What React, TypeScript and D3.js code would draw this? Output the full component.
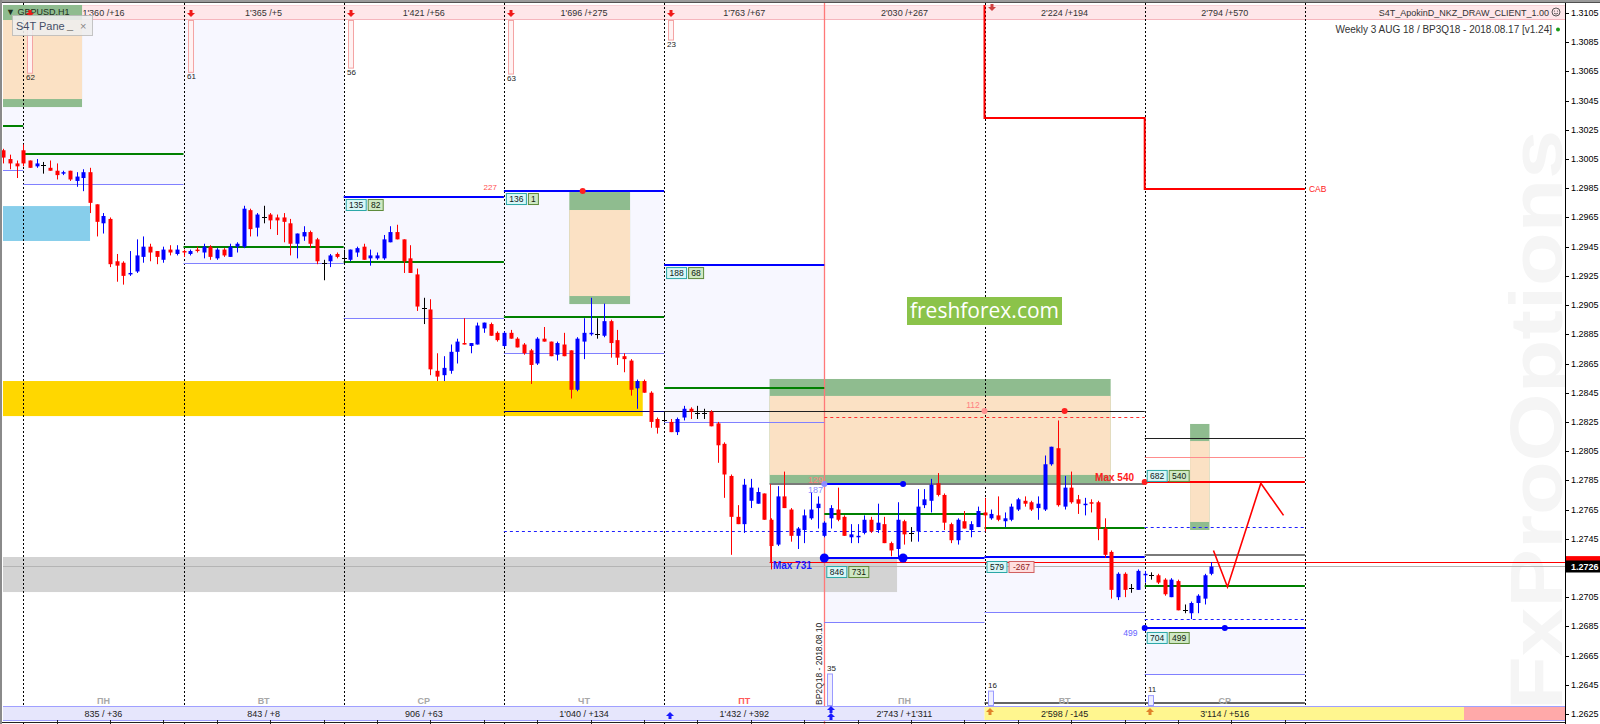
import React from 'react';
import * as d3 from 'd3';

// ---------- GBPUSD H1 candles ----------
const OPEN = [
  1.3011, 1.3005, 1.3002,
  1.3011, 1.3004, 1.3000, 1.3001, 1.2999, 1.2997, 1.2995, 1.2997, 1.2990, 1.2992, 1.2996, 1.2974, 1.2961, 1.2964, 1.2935, 1.2934, 1.2926, 1.2928, 1.2938, 1.2945, 1.2942, 1.2936, 1.2943, 1.2940,
  1.2942, 1.2940, 1.2943, 1.2941, 1.2945, 1.2937, 1.2943, 1.2938, 1.2945, 1.2945, 1.2970, 1.2958, 1.2965, 1.2967, 1.2965, 1.2965, 1.2961, 1.2947, 1.2952, 1.2955, 1.2950, 1.2934, 1.2935, 1.2940,
  1.2937, 1.2936, 1.2941, 1.2945, 1.2937, 1.2937, 1.2937, 1.2948, 1.2955, 1.2950, 1.2937, 1.2926, 1.2903, 1.2902, 1.2860, 1.2857, 1.2860, 1.2873, 1.2879, 1.2877, 1.2878, 1.2889, 1.2892, 1.2886,
  1.2877, 1.2886, 1.2882, 1.2878, 1.2874, 1.2865, 1.2882, 1.2880, 1.2871, 1.2878, 1.2874, 1.2847, 1.2880, 1.2885, 1.2885, 1.2884, 1.2894, 1.2881, 1.2870, 1.2867, 1.2848, 1.2853, 1.2845, 1.2827,
  1.2826, 1.2825, 1.2818, 1.2828, 1.2834, 1.2831, 1.2831, 1.2832, 1.2824, 1.2810, 1.2788, 1.2760, 1.2755, 1.2771, 1.2769, 1.2776, 1.2758, 1.2741, 1.2774, 1.2765, 1.2747, 1.2751, 1.2759, 1.2766,
  1.2747, 1.2759, 1.2765, 1.2760, 1.2746, 1.2746, 1.2749, 1.2758, 1.2751, 1.2755, 1.2742, 1.2738, 1.2757, 1.2749, 1.2750, 1.2768, 1.2771, 1.2783, 1.2775, 1.2755, 1.2744, 1.2757, 1.2751, 1.2753,
  1.2763, 1.2759, 1.2761, 1.2757, 1.2758, 1.2765, 1.2771, 1.2770, 1.2766, 1.2765, 1.2796, 1.2807, 1.2767, 1.2780, 1.2772, 1.2768, 1.2770, 1.2770, 1.2752, 1.2736, 1.2705, 1.2721, 1.2711, 1.2710,
  1.2720, 1.2720, 1.2720, 1.2717, 1.2705, 1.2716, 1.2696, 1.2694, 1.2701, 1.2704, 1.2721,
];
const HIGH = [
  1.3012, 1.3008, 1.3004,
  1.3015, 1.3004, 1.3005, 1.3003, 1.3004, 1.3002, 1.2997, 1.2997, 1.2996, 1.2998, 1.2999, 1.2974, 1.2968, 1.2965, 1.2940, 1.2935, 1.2942, 1.2950, 1.2952, 1.2947, 1.2942, 1.2945, 1.2946, 1.2946,
  1.2943, 1.2943, 1.2945, 1.2947, 1.2946, 1.2944, 1.2944, 1.2947, 1.2948, 1.2973, 1.2971, 1.2968, 1.2973, 1.2968, 1.2967, 1.2968, 1.2964, 1.2954, 1.2959, 1.2956, 1.2951, 1.2936, 1.2940, 1.2941,
  1.2943, 1.2943, 1.2945, 1.2947, 1.2943, 1.2941, 1.2953, 1.2959, 1.2960, 1.2950, 1.2946, 1.2930, 1.2910, 1.2909, 1.2872, 1.2870, 1.2878, 1.2882, 1.2896, 1.2879, 1.2893, 1.2893, 1.2893, 1.2887,
  1.2887, 1.2888, 1.2883, 1.2879, 1.2875, 1.2883, 1.2890, 1.2880, 1.2880, 1.2886, 1.2874, 1.2883, 1.2896, 1.2910, 1.2896, 1.2906, 1.2895, 1.2888, 1.2872, 1.2868, 1.2854, 1.2854, 1.2846, 1.2828,
  1.2832, 1.2827, 1.2828, 1.2836, 1.2835, 1.2836, 1.2834, 1.2833, 1.2825, 1.2811, 1.2789, 1.2768, 1.2786, 1.2786, 1.2780, 1.2776, 1.2759, 1.2781, 1.2791, 1.2766, 1.2753, 1.2765, 1.2777, 1.2774,
  1.2757, 1.2768, 1.2780, 1.2761, 1.2755, 1.2755, 1.2761, 1.2760, 1.2769, 1.2760, 1.2743, 1.2770, 1.2758, 1.2753, 1.2779, 1.2779, 1.2786, 1.2790, 1.2776, 1.2756, 1.2759, 1.2764, 1.2757, 1.2767,
  1.2773, 1.2765, 1.2774, 1.2763, 1.2769, 1.2773, 1.2774, 1.2771, 1.2774, 1.2802, 1.2808, 1.2826, 1.2788, 1.2791, 1.2775, 1.2773, 1.2772, 1.2771, 1.2759, 1.2737, 1.2722, 1.2722, 1.2714, 1.2724,
  1.2723, 1.2722, 1.2721, 1.2718, 1.2718, 1.2717, 1.2700, 1.2702, 1.2707, 1.2721, 1.2729,
];
const LOW = [
  1.3002, 1.2998, 1.2992,
  1.3000, 1.2999, 1.2999, 1.2995, 1.2997, 1.2991, 1.2994, 1.2990, 1.2986, 1.2983, 1.2968, 1.2952, 1.2954, 1.2931, 1.2921, 1.2919, 1.2925, 1.2927, 1.2934, 1.2935, 1.2933, 1.2934, 1.2939, 1.2939,
  1.2938, 1.2939, 1.2941, 1.2937, 1.2936, 1.2936, 1.2938, 1.2938, 1.2941, 1.2944, 1.2952, 1.2952, 1.2961, 1.2957, 1.2953, 1.2948, 1.2939, 1.2937, 1.2949, 1.2944, 1.2933, 1.2922, 1.2931, 1.2937,
  1.2934, 1.2935, 1.2938, 1.2936, 1.2932, 1.2936, 1.2936, 1.2948, 1.2950, 1.2927, 1.2927, 1.2901, 1.2892, 1.2857, 1.2853, 1.2853, 1.2858, 1.2865, 1.2878, 1.2872, 1.2878, 1.2886, 1.2884, 1.2880,
  1.2876, 1.2882, 1.2876, 1.2871, 1.2851, 1.2864, 1.2880, 1.2870, 1.2867, 1.2870, 1.2841, 1.2846, 1.2868, 1.2884, 1.2882, 1.2883, 1.2869, 1.2864, 1.2859, 1.2843, 1.2834, 1.2845, 1.2821, 1.2817,
  1.2825, 1.2818, 1.2816, 1.2826, 1.2827, 1.2827, 1.2827, 1.2822, 1.2797, 1.2773, 1.2734, 1.2755, 1.2749, 1.2766, 1.2769, 1.2758, 1.2724, 1.2740, 1.2766, 1.2743, 1.2738, 1.2742, 1.2758, 1.2752,
  1.2746, 1.2752, 1.2757, 1.2747, 1.2742, 1.2742, 1.2748, 1.2749, 1.2749, 1.2742, 1.2733, 1.2731, 1.2741, 1.2743, 1.2743, 1.2766, 1.2763, 1.2774, 1.2751, 1.2742, 1.2741, 1.2752, 1.2746, 1.2753,
  1.2750, 1.2758, 1.2757, 1.2753, 1.2757, 1.2764, 1.2767, 1.2764, 1.2758, 1.2764, 1.2795, 1.2767, 1.2765, 1.2769, 1.2762, 1.2761, 1.2763, 1.2744, 1.2732, 1.2704, 1.2703, 1.2705, 1.2708, 1.2710,
  1.2715, 1.2717, 1.2714, 1.2706, 1.2705, 1.2696, 1.2694, 1.2690, 1.2694, 1.2700, 1.2720,
];
const CLOSE = [
  1.3006, 1.3002, 1.3000,
  1.3002, 1.2999, 1.3002, 1.3001, 1.2997, 1.2994, 1.2996, 1.2991, 1.2993, 1.2996, 1.2975, 1.2962, 1.2966, 1.2933, 1.2932, 1.2925, 1.2927, 1.2939, 1.2945, 1.2941, 1.2938, 1.2943, 1.2941, 1.2943,
  1.2941, 1.2942, 1.2942, 1.2945, 1.2938, 1.2943, 1.2939, 1.2945, 1.2947, 1.2971, 1.2957, 1.2967, 1.2965, 1.2963, 1.2963, 1.2962, 1.2947, 1.2954, 1.2955, 1.2947, 1.2935, 1.2934, 1.2939, 1.2938,
  1.2937, 1.2943, 1.2944, 1.2936, 1.2939, 1.2939, 1.2950, 1.2955, 1.2950, 1.2935, 1.2927, 1.2904, 1.2903, 1.2861, 1.2856, 1.2862, 1.2873, 1.2880, 1.2878, 1.2879, 1.2891, 1.2893, 1.2884, 1.2881,
  1.2886, 1.2882, 1.2876, 1.2872, 1.2864, 1.2882, 1.2880, 1.2870, 1.2879, 1.2870, 1.2847, 1.2882, 1.2886, 1.2886, 1.2885, 1.2894, 1.2879, 1.2869, 1.2868, 1.2847, 1.2853, 1.2845, 1.2825, 1.2821,
  1.2826, 1.2818, 1.2827, 1.2834, 1.2832, 1.2831, 1.2831, 1.2822, 1.2809, 1.2789, 1.2760, 1.2755, 1.2782, 1.2780, 1.2777, 1.2758, 1.2740, 1.2774, 1.2766, 1.2747, 1.2752, 1.2761, 1.2765, 1.2769,
  1.2756, 1.2766, 1.2758, 1.2747, 1.2748, 1.2747, 1.2758, 1.2750, 1.2756, 1.2742, 1.2737, 1.2758, 1.2748, 1.2749, 1.2767, 1.2772, 1.2782, 1.2775, 1.2756, 1.2744, 1.2758, 1.2752, 1.2755, 1.2764,
  1.2761, 1.2762, 1.2758, 1.2759, 1.2767, 1.2772, 1.2769, 1.2765, 1.2769, 1.2796, 1.2808, 1.2768, 1.2780, 1.2770, 1.2769, 1.2769, 1.2769, 1.2752, 1.2734, 1.2710, 1.2721, 1.2710, 1.2711, 1.2723,
  1.2721, 1.2720, 1.2715, 1.2707, 1.2717, 1.2696, 1.2696, 1.2701, 1.2706, 1.2720, 1.2726,
];

const PRICE_TICKS = [
  1.2625, 1.2645, 1.2665, 1.2685, 1.2705, 1.2725, 1.2745, 1.2765, 1.2785, 1.2805, 1.2825, 1.2845, 1.2865,
  1.2885, 1.2905, 1.2925, 1.2945, 1.2965, 1.2985, 1.3005, 1.3025, 1.3045, 1.3065, 1.3085, 1.3105,
];
const DAY_NAMES = ['ПН', 'ВТ', 'СР', 'ЧТ', 'ПТ', 'ПН', 'ВТ', 'СР'];
const TOP_STATS = ["1'360 /+16", "1'365 /+5", "1'421 /+56", "1'696 /+275", "1'763 /+67", "2'030 /+267", "2'224 /+194", "2'794 /+570"];
const BOTTOM_STATS = ['835 / +36', '843 / +8', '906 / +63', "1'040 / +134", "1'432 / +392", "2'743 / +1'311", "2'598 / -145", "3'114 / +516"];
const TOP_COUNTS = [62, 61, 56, 63, 23];
const BOTTOM_COUNTS = [35, 16, 11]; // days 5,6,7
const CURRENT_PRICE = 1.2726;
const ASK_PRICE = 1.2729;

// per slot: 0 = tail of previous week, 1..8 = days
const GREEN_LEVELS = [1.30276, 1.30085, 1.2945, 1.29347, 1.2897, 1.28482, 1.27619, 1.27524, 1.27127];
const RANGE_TOP = [null, null, null, 1.2979, 1.29831, 1.29324, 1.27318, 1.27325, 1.26839];
const RANGE_BOTTOM = [1.29975, 1.29877, 1.29338, 1.28962, 1.28722, 1.28249, 1.2688, 1.26948, 1.26524];

// zones: bar index span, outer (green) and inner (peach) price bounds
const ZONES = [
  { i0: -0.05, i1: 11.8, o0: 1.31105, n0: 1.31002, n1: 1.30461, o1: 1.30406 },
  { i0: 84.8, i1: 93.9, o0: 1.29824, n0: 1.29701, n1: 1.29112, o1: 1.29057 },
  { i0: 114.8, i1: 165.9, o0: 1.28544, n0: 1.28428, n1: 1.27887, o1: 1.27825 },
  { i0: 177.8, i1: 180.7, o0: 1.28236, n0: 1.28119, n1: 1.27565, o1: 1.2751 },
];
const FLAT_ZONES = [
  { i0: -0.05, i1: 13.0, p0: 1.29728, p1: 1.29489, kind: 'sky' },
  { i0: -0.05, i1: 95.8, p0: 1.2853, p1: 1.2829, kind: 'gold' },
  { i0: -0.05, i1: 133.9, p0: 1.27325, p1: 1.27085, kind: 'gray' },
];
const EXTRA_LEVELS = [
  { i0: 75, i1: 99, p: 1.28325, kind: 'navy' },
  { i0: 99, i1: 171, p: 1.28325, kind: 'black' },
  { i0: 171, i1: 195, p: 1.2814, kind: 'black' },
  { i0: 123, i1: 171, p: 1.28284, kind: 'redDash' },
  { i0: 114.8, i1: 171, p: 1.27825, kind: 'gray' },
  { i0: 123, i1: 134.8, p: 1.27825, kind: 'blueThick' },
  { i0: 171, i1: 195, p: 1.27339, kind: 'gray' },
  { i0: 75, i1: 147, p: 1.27505, kind: 'blueDash' },
  { i0: 171, i1: 195, p: 1.2753, kind: 'blueDash' },
  { i0: 171, i1: 195, p: 1.269, kind: 'blueDash' },
  { i0: 171, i1: 195, p: 1.2801, kind: 'redThin' },
  { i0: 171, i1: 195, p: 1.27839, kind: 'red2' },
  { i0: 147, i1: 195, p: 1.26325, kind: 'blackBottom' },
];
const DOTS = [
  { i: 123, p: 1.27318, kind: 'blueBig' },
  { i: 134.8, p: 1.27318, kind: 'blueBig' },
  { i: 123, p: 1.27825, kind: 'lilac' },
  { i: 134.8, p: 1.27825, kind: 'blue' },
  { i: 171, p: 1.26839, kind: 'blue' },
  { i: 183, p: 1.26839, kind: 'blue' },
  { i: 171, p: 1.27839, kind: 'red' },
  { i: 86.8, p: 1.29831, kind: 'red' },
  { i: 147, p: 1.28325, kind: 'pink' },
  { i: 159, p: 1.28325, kind: 'red' },
];
const STEP_LEVELS = [
  { i0: 147, i1: 171, p: 1.30331 },
  { i0: 171, i1: 195, p: 1.29845 },
];
const STEP_TOP = 1.31105;
const FORECAST = [
  { i: 181.3, p: 1.2737 },
  { i: 183.4, p: 1.2712 },
  { i: 188.4, p: 1.2783 },
  { i: 191.8, p: 1.2761 },
];
const PAIR_LABELS = [
  { slot: 3, p: 1.2979, a: '135', b: '82', above: false, bRed: false },
  { slot: 4, p: 1.29831, a: '136', b: '1', above: false, bRed: false },
  { slot: 5, p: 1.29324, a: '188', b: '68', above: false, bRed: false },
  { slot: 6, p: 1.27318, a: '846', b: '731', above: false, bRed: false, gap: 8 },
  { slot: 7, p: 1.27325, a: '579', b: '-267', above: false, bRed: true, gap: 4 },
  { slot: 8, p: 1.27839, a: '682', b: '540', above: true, bRed: false },
  { slot: 8, p: 1.26839, a: '704', b: '499', above: false, bRed: false, gap: 4 },
];

const STYLES = {
  green: { stroke: '#008000', w: 2, dash: undefined },
  blueThin: { stroke: '#8080ff', w: 1, dash: undefined },
  blueThick: { stroke: '#0000ff', w: 2, dash: undefined },
  blueDash: { stroke: '#2020ff', w: 1, dash: '3,3' },
  navy: { stroke: '#000080', w: 1, dash: undefined },
  black: { stroke: '#202020', w: 1, dash: undefined },
  redDash: { stroke: '#ff3030', w: 1, dash: '3,3' },
  gray: { stroke: '#7a7a7a', w: 2, dash: undefined },
  redThin: { stroke: '#ff8c8c', w: 1, dash: undefined },
  red2: { stroke: '#ff0000', w: 2, dash: undefined },
  blackBottom: { stroke: '#303030', w: 1.5, dash: undefined },
};
const DOT_STYLES = {
  blueBig: { fill: '#0000ff', r: 4.5 },
  blue: { fill: '#0000ff', r: 3 },
  lilac: { fill: '#8c8cff', r: 3 },
  red: { fill: '#ff2020', r: 3 },
  pink: { fill: '#ff9090', r: 3 },
};

const W = 1600;
const H = 724;
const AXIS_X = 1565;
const LEFT = 3;
const FONT = "'Liberation Sans', Arial, sans-serif";

function PairLabel({ x0, yLine, a, b, above, bRed, gap }) {
  const h = 11;
  const wa = a.length * 5 + 5;
  const wb = b.length * 5 + 5;
  const top = above ? yLine - h - 1 : yLine + (gap || 2);
  return (
    <g fontSize={8.5} fontFamily={FONT}>
      <rect x={x0 + 0.5} y={top + 0.5} width={wa} height={h} fill="#d8f7f7" stroke="#2aa7a7" />
      <text x={x0 + 0.5 + wa / 2} y={top + 9} textAnchor="middle" fill="#102020">{a}</text>
      <rect x={x0 + wa + 2.5} y={top + 0.5} width={wb} height={h} fill={bRed ? '#ffdede' : '#cfe8c4'} stroke={bRed ? '#d06060' : '#5d8a3a'} />
      <text x={x0 + wa + 2.5 + wb / 2} y={top + 9} textAnchor="middle" fill={bRed ? '#902020' : '#102010'}>{b}</text>
    </g>
  );
}

function UpArrow({ cx, cy, color }) {
  const pts = [[cx, cy - 4], [cx + 4, cy], [cx + 1.5, cy], [cx + 1.5, cy + 3], [cx - 1.5, cy + 3], [cx - 1.5, cy], [cx - 4, cy]];
  return <polygon points={pts.map((p) => p.join(',')).join(' ')} fill={color} />;
}
function DownArrow({ cx, cy, color }) {
  const pts = [[cx, cy + 4], [cx + 4, cy], [cx + 1.5, cy], [cx + 1.5, cy - 3], [cx - 1.5, cy - 3], [cx - 1.5, cy], [cx - 4, cy]];
  return <polygon points={pts.map((p) => p.join(',')).join(' ')} fill={color} />;
}

export default function App() {
  const x = d3.scaleLinear().domain([3, 195]).range([23.3, 1304.9]);
  const y = d3.scaleLinear().domain([1.2625, 1.3105]).range([714, 13]);
  const X = (i) => Math.max(LEFT, x(i));
  const slotStart = (k) => (k === 0 ? -21 : 3 + 24 * (k - 1));
  const slotX0 = (k) => X(slotStart(k));
  const slotX1 = (k) => x(3 + 24 * k);
  const TOP_Y = y(1.3101);

  const candles = OPEN.map((o, i) => ({ i, o, h: HIGH[i], l: LOW[i], c: CLOSE[i] }));

  const levels = [];
  GREEN_LEVELS.forEach((p, k) => levels.push({ x0: slotX0(k), x1: slotX1(k), p, kind: 'green' }));
  RANGE_BOTTOM.forEach((p, k) => levels.push({ x0: slotX0(k), x1: slotX1(k), p, kind: 'blueThin' }));
  RANGE_TOP.forEach((p, k) => { if (p !== null) levels.push({ x0: slotX0(k), x1: slotX1(k), p, kind: 'blueThick' }); });
  EXTRA_LEVELS.forEach((l) => levels.push({ x0: X(l.i0), x1: x(l.i1), p: l.p, kind: l.kind }));

  const sepIdx = d3.range(1, 10);

  const line = d3.line().x((d) => x(d.i)).y((d) => y(d.p));
  const stepPath = `M${x(STEP_LEVELS[0].i0)},${y(STEP_TOP)} V${y(STEP_LEVELS[0].p)} H${x(STEP_LEVELS[0].i1)} V${y(STEP_LEVELS[1].p)} H${x(STEP_LEVELS[1].i1)}`;

  return (
    <svg width={W} height={H} style={{ position: 'absolute', left: 0, top: 0, display: 'block' }} fontFamily={FONT}>
      <rect x={0} y={0} width={W} height={H} fill="#ffffff" />

      {/* watermark */}
      <text transform={`translate(1562,420) rotate(-90)`} textAnchor="middle" fontSize={74} fontWeight="bold" fill="#f5f5f5" textLength={580} lengthAdjust="spacingAndGlyphs" fontFamily="'Liberation Sans', Arial, sans-serif">FxProOptions</text>

      {/* day range boxes */}
      {RANGE_BOTTOM.map((pb, k) => {
        const pt = RANGE_TOP[k];
        const y0 = pt === null ? TOP_Y : y(pt);
        return <rect key={'rb' + k} x={slotX0(k)} y={y0} width={slotX1(k) - slotX0(k)} height={y(pb) - y0} fill="#f7f7ff" />;
      })}

      {/* flat zones */}
      {FLAT_ZONES.map((z, k) => (
        <rect key={'fz' + k} x={X(z.i0)} y={y(z.p0)} width={x(z.i1) - X(z.i0)} height={y(z.p1) - y(z.p0)}
          fill={z.kind === 'sky' ? '#87ceeb' : z.kind === 'gold' ? '#ffd700' : '#d3d3d3'} />
      ))}

      {/* top bar */}
      <rect x={LEFT} y={5} width={AXIS_X - LEFT} height={14} fill="#fee6e9" />
      <line x1={LEFT} x2={AXIS_X} y1={19.5} y2={19.5} stroke="#f5b5bd" />
      <line x1={LEFT} x2={AXIS_X} y1={5.5} y2={5.5} stroke="#f8d0d6" />

      {/* peach / green zones */}
      {ZONES.map((z, k) => (
        <g key={'z' + k}>
          <rect x={X(z.i0)} y={y(z.o0)} width={x(z.i1) - X(z.i0)} height={y(z.o1) - y(z.o0)} fill="#8fbc8f" />
          <rect x={X(z.i0)} y={y(z.n0)} width={x(z.i1) - X(z.i0)} height={y(z.n1) - y(z.n0)} fill="#fbe1c4" />
        </g>
      ))}

      {/* day separators */}
      {sepIdx.map((k) => (
        <line key={'sep' + k} x1={Math.round(slotX0(k)) + 0.5} x2={Math.round(slotX0(k)) + 0.5} y1={3} y2={H}
          stroke="#000" strokeDasharray="2,2" strokeWidth={1} />
      ))}
      <line x1={Math.round(slotX0(6)) + 0.5} x2={Math.round(slotX0(6)) + 0.5} y1={3} y2={H} stroke="#ff7878" strokeWidth={1.3} />

      {/* levels */}
      {levels.map((l, k) => {
        const s = STYLES[l.kind];
        const yy = Math.round(y(l.p)) + (s.w === 1 ? 0.5 : 0);
        return <line key={'lv' + k} x1={l.x0} x2={l.x1} y1={yy} y2={yy} stroke={s.stroke} strokeWidth={s.w} strokeDasharray={s.dash} />;
      })}
      {/* red marker line */}
      <line x1={x(114.8)} x2={AXIS_X} y1={Math.round(y(ASK_PRICE)) + 0.5} y2={Math.round(y(ASK_PRICE)) + 0.5} stroke="#ff0000" strokeWidth={1} />
      <line x1={Math.round(x(114.8)) + 0.5} x2={Math.round(x(114.8)) + 0.5} y1={y(1.27825)} y2={y(ASK_PRICE)} stroke="#ff2020" strokeWidth={1} />
      {/* current price line */}
      <line x1={LEFT} x2={AXIS_X} y1={Math.round(y(CURRENT_PRICE)) + 0.5} y2={Math.round(y(CURRENT_PRICE)) + 0.5} stroke="#b4b4b4" strokeWidth={1} />

      {/* red step line */}
      <path d={stepPath} fill="none" stroke="#ff0000" strokeWidth={2} />
      <text x={x(195) + 4} y={y(STEP_LEVELS[1].p) + 3} fontSize={8.5} fill="#ff2020">CAB</text>

      {/* candles */}
      {candles.map((d) => {
        const cx = Math.round(x(d.i));
        const doji = Math.abs(d.o - d.c) < 0.00005;
        const col = doji ? '#000000' : d.c > d.o ? '#0000ff' : '#ff0000';
        const yTop = y(Math.max(d.o, d.c));
        const yBot = y(Math.min(d.o, d.c));
        return (
          <g key={'c' + d.i}>
            <line x1={cx + 0.5} x2={cx + 0.5} y1={y(d.h)} y2={y(d.l)} stroke={col} strokeWidth={1} />
            {doji ? (
              <line x1={cx - 2} x2={cx + 3} y1={Math.round(yTop) + 0.5} y2={Math.round(yTop) + 0.5} stroke={col} />
            ) : (
              <rect x={cx - 1.5} y={yTop} width={4} height={Math.max(1, yBot - yTop)} fill={col} />
            )}
          </g>
        );
      })}

      {/* forecast zigzag */}
      <path d={line(FORECAST)} fill="none" stroke="#ff0000" strokeWidth={1.6} />

      {/* dots */}
      {DOTS.map((d, k) => (
        <circle key={'d' + k} cx={x(d.i)} cy={y(d.p)} r={DOT_STYLES[d.kind].r} fill={DOT_STYLES[d.kind].fill} />
      ))}

      {/* pair labels */}
      {PAIR_LABELS.map((l, k) => (
        <PairLabel key={'pl' + k} x0={slotX0(l.slot) + 2} yLine={y(l.p)} a={l.a} b={l.b} above={l.above} bRed={l.bRed} gap={l.gap} />
      ))}

      {/* misc labels */}
      <text x={slotX0(4) - 7} y={y(1.29831) - 1} fontSize={8} fill="#ff5050" textAnchor="end">227</text>
      <text x={x(122.8)} y={y(1.27825) - 1} fontSize={9} fill="#ff7f7f" textAnchor="end">129</text>
      <text x={x(122.8)} y={y(1.27825) + 9} fontSize={9} fill="#8c8cff" textAnchor="end">187</text>
      <text x={x(146.3)} y={y(1.28325) - 3} fontSize={8.5} fill="#ff8080" textAnchor="end">112</text>
      <text x={x(115.3)} y={y(1.27291) + 7} fontSize={10} fontWeight="bold" fill="#1a1aff">Max 731</text>
      <text x={x(170) - 4} y={y(1.27839) - 1} fontSize={10} fontWeight="bold" fill="#ff2020" textAnchor="end">Max 540</text>
      <text x={x(170.5) - 4} y={y(1.26839) + 8} fontSize={8.5} fill="#6464ff" textAnchor="end">499</text>

      {/* freshforex logo */}
      <rect x={907} y={297} width={155} height={28} fill="#8bc34a" />
      <text x={984.5} y={318} textAnchor="middle" fontSize={21} fill="#ffffff" fontFamily="'Open Sans', 'Noto Sans', sans-serif">freshforex.com</text>

      {/* top bar contents */}
      <rect x={LEFT} y={5} width={x(11.8) - LEFT} height={15} fill="#8fbc8f" />
      <text x={6} y={15} fontSize={9} fill="#203020">▼ GBPUSD,H1</text>
      {TOP_STATS.map((t, k) => (
        <text key={'ts' + k} x={(slotX0(k + 1) + slotX1(k + 1)) / 2} y={15.5} textAnchor="middle" fontSize={9} fill="#333">{t}</text>
      ))}
      <text x={1549} y={15.5} textAnchor="end" fontSize={9} fill="#333">S4T_ApokinD_NKZ_DRAW_CLIENT_1.00</text>
      <circle cx={1556} cy={12} r={4} fill="none" stroke="#444" strokeWidth={0.9} />
      <circle cx={1554.5} cy={11} r={0.6} fill="#444" />
      <circle cx={1557.5} cy={11} r={0.6} fill="#444" />
      <path d="M1554,13.2 Q1556,15 1558,13.2" fill="none" stroke="#444" strokeWidth={0.8} />
      <text x={1552} y={33} textAnchor="end" fontSize={10} fill="#333">Weekly 3 AUG 18 / BP3Q18 - 2018.08.17 [v1.24]</text>
      <circle cx={1558} cy={29.5} r={2} fill="#1a9a1a" />

      {/* top markers */}
      {TOP_COUNTS.map((v, k) => {
        const rx = Math.round(slotX0(k + 1)) + 4;
        const hh = v * 0.85;
        return (
          <g key={'tc' + k}>
            <rect x={rx + 0.5} y={20.5} width={5} height={hh} fill="#fff2f2" stroke="#f4a4a4" />
            <text x={rx - 1} y={20 + hh + 7} fontSize={8} fill="#222">{v}</text>
            <DownArrow cx={rx + 3} cy={13} color="#f01818" />
          </g>
        );
      })}
      <DownArrow cx={Math.round(slotX0(7)) + 7} cy={7} color="#d04040" />

      {/* S4T pane */}
      <g opacity={0.88}>
        <rect x={12.5} y={15.5} width={80} height={20} fill="#efefef" stroke="#bdbdbd" />
        <text x={16} y={30} fontSize={11} fill="#2a3a5a">S4T Pane</text>
        <text x={67} y={29} fontSize={11} fill="#666">_</text>
        <text x={80} y={30} fontSize={11} fill="#777">×</text>
      </g>

      {/* bottom markers */}
      {BOTTOM_COUNTS.map((v, k) => {
        const rx = Math.round(slotX0(k + 6)) + 3;
        const hh = v * 0.9;
        return (
          <g key={'bc' + k}>
            <rect x={rx + 0.5} y={705 - hh + 0.5} width={5} height={hh} fill="#eeeeff" stroke="#9a9aff" />
            <text x={rx} y={705 - hh - 3} fontSize={8} fill="#222">{v}</text>
          </g>
        );
      })}
      <text transform={`translate(${Math.round(slotX0(6)) - 2},705) rotate(-90)`} fontSize={8.5} fill="#222">BP2Q18 - 2018.08.10</text>

      {/* day names */}
      {DAY_NAMES.map((n, k) => (
        <text key={'dn' + k} x={(slotX0(k + 1) + slotX1(k + 1)) / 2} y={704} textAnchor="middle" fontSize={9} fontWeight="bold"
          fill={k === 4 ? '#ff5a5a' : '#a8a8a8'}>{n}</text>
      ))}

      {/* bottom bar */}
      <rect x={LEFT} y={706} width={slotX0(7) - LEFT} height={14} fill="#e6e6fc" />
      <rect x={slotX0(7)} y={706} width={1464 - slotX0(7)} height={14} fill="#fff68f" />
      <rect x={1464} y={706} width={AXIS_X - 1464} height={14} fill="#ffa9a9" />
      <line x1={LEFT} x2={AXIS_X} y1={706.5} y2={706.5} stroke="#a0a0ff" />
      <line x1={LEFT} x2={AXIS_X} y1={720.5} y2={720.5} stroke="#a0a0ff" />
      {BOTTOM_STATS.map((t, k) => (
        <text key={'bs' + k} x={(slotX0(k + 1) + slotX1(k + 1)) / 2} y={716.5} textAnchor="middle" fontSize={9} fill="#222">{t}</text>
      ))}
      <UpArrow cx={Math.round(slotX0(5)) + 6} cy={716} color="#1a1aff" />
      <UpArrow cx={Math.round(slotX0(6)) + 7} cy={710} color="#1a1aff" />
      <UpArrow cx={Math.round(slotX0(6)) + 7} cy={717} color="#1a1aff" />
      <UpArrow cx={Math.round(slotX0(7)) + 5} cy={712} color="#e0822a" />
      <UpArrow cx={Math.round(slotX0(8)) + 5} cy={712} color="#e0822a" />
      <line x1={0} x2={AXIS_X} y1={722.5} y2={722.5} stroke="#222" />
      {d3.range(0, 24).map((k) => (
        <line key={'tk' + k} x1={Math.round(x(8 + 8 * k)) + 0.5} x2={Math.round(x(8 + 8 * k)) + 0.5} y1={720} y2={724} stroke="#222" />
      ))}

      {/* frame */}
      <rect x={0} y={0} width={W} height={3} fill="#9a9a9a" />
      <line x1={0} x2={W} y1={2.5} y2={2.5} stroke="#505050" />
      <rect x={0} y={0} width={2} height={H} fill="#8a8a8a" />

      {/* right axis */}
      <rect x={AXIS_X} y={3} width={W - AXIS_X} height={H - 3} fill="#ffffff" />
      <line x1={AXIS_X + 0.5} x2={AXIS_X + 0.5} y1={3} y2={H} stroke="#000" />
      {PRICE_TICKS.map((p) => (
        <g key={'pt' + p}>
          <line x1={AXIS_X} x2={AXIS_X + 4} y1={Math.round(y(p)) + 0.5} y2={Math.round(y(p)) + 0.5} stroke="#000" />
          <text x={AXIS_X + 6} y={y(p) + 3} fontSize={9} fill="#000">{p.toFixed(4)}</text>
        </g>
      ))}
      <rect x={AXIS_X + 1} y={y(ASK_PRICE) - 6} width={W - AXIS_X} height={11} fill="#ff0000" />
      <rect x={AXIS_X + 1} y={y(CURRENT_PRICE) - 6} width={W - AXIS_X} height={12} fill="#000000" />
      <text x={AXIS_X + 6} y={y(CURRENT_PRICE) + 3.5} fontSize={9} fontWeight="bold" fill="#fff">{CURRENT_PRICE.toFixed(4)}</text>
    </svg>
  );
}
